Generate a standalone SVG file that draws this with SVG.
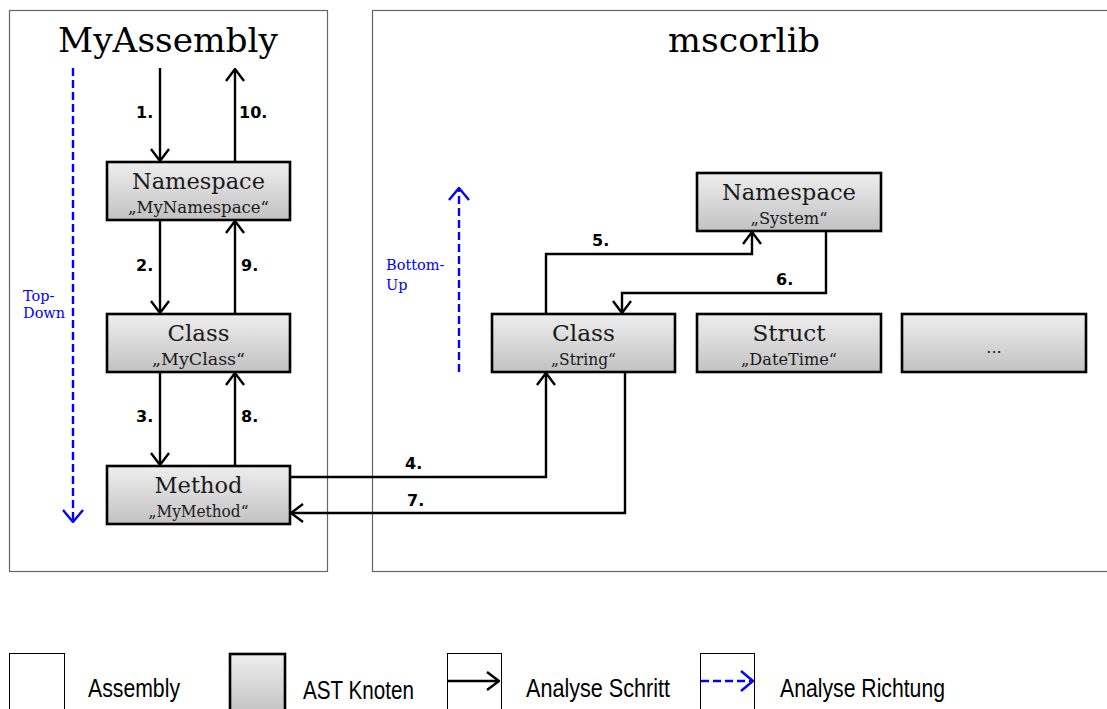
<svg xmlns="http://www.w3.org/2000/svg" width="1107" height="709" viewBox="0 0 1107 709">
  <defs>
    <linearGradient id="nodeFill" x1="0" y1="0" x2="0" y2="1">
      <stop offset="0" stop-color="#eeeeee"/>
      <stop offset="1" stop-color="#c2c2c2"/>
    </linearGradient>
    <marker id="open" viewBox="0 0 14 20" refX="13" refY="10" markerWidth="14" markerHeight="20" markerUnits="userSpaceOnUse" orient="auto">
      <path d="M1,1 L13,10 L1,19" fill="none" stroke="#000" stroke-width="2.4"/>
    </marker>
    <marker id="openBlue" viewBox="0 0 14 22" refX="13" refY="11" markerWidth="14" markerHeight="22" markerUnits="userSpaceOnUse" orient="auto">
      <path d="M1,1 L13,11 L1,21" fill="none" stroke="#0000ff" stroke-width="2.4"/>
    </marker>
  </defs>
  <style>
    .asm { fill: #fff; stroke: #666; stroke-width: 1.2; }
    .node { fill: url(#nodeFill); stroke: #000; stroke-width: 2.6; }
    .title { font-family: "DejaVu Serif", serif; font-size: 34px; fill: #000; text-anchor: middle; }
    .main { font-family: "DejaVu Serif", serif; font-size: 23px; fill: #1a1a1a; text-anchor: middle; }
    .sub { font-family: "DejaVu Serif", serif; font-size: 16px; fill: #1a1a1a; text-anchor: middle; }
    .step { fill: none; stroke: #000; stroke-width: 2.4; marker-end: url(#open); }
    .dir { fill: none; stroke: #0000ff; stroke-width: 2.4; stroke-dasharray: 8 4; marker-end: url(#openBlue); }
    .num { font-family: "DejaVu Sans", sans-serif; font-weight: bold; font-size: 16px; fill: #000; }
    .dirlbl { font-family: "DejaVu Serif", serif; font-size: 14.5px; fill: #0000ff; }
    .leg { font-family: "Liberation Sans", sans-serif; font-size: 26px; fill: #000; }
  </style>

  <!-- assemblies -->
  <g id="assembly-myassembly">
    <rect class="asm" x="9.5" y="10.5" width="318" height="561"/>
    <text class="title" x="168" y="52" textLength="220" lengthAdjust="spacingAndGlyphs">MyAssembly</text>
  </g>
  <g id="assembly-mscorlib">
    <rect class="asm" x="372.5" y="10.5" width="740" height="561"/>
    <text class="title" x="744" y="52" textLength="152" lengthAdjust="spacingAndGlyphs">mscorlib</text>
  </g>

  <!-- analysis directions -->
  <g id="direction-topdown">
    <line class="dir" x1="73" y1="68" x2="73" y2="522"/>
    <text class="dirlbl" x="23" y="301">Top-</text>
    <text class="dirlbl" x="23" y="318">Down</text>
  </g>
  <g id="direction-bottomup">
    <line class="dir" x1="459" y1="372" x2="459" y2="188"/>
    <text class="dirlbl" x="386" y="270">Bottom-</text>
    <text class="dirlbl" x="386" y="290">Up</text>
  </g>

  <!-- AST nodes -->
  <g id="node-mynamespace">
    <rect class="node" x="107" y="162" width="183" height="58"/>
    <text class="main" x="198.5" y="189" textLength="133" lengthAdjust="spacingAndGlyphs">Namespace</text>
    <text class="sub" x="198.5" y="213" textLength="141" lengthAdjust="spacingAndGlyphs">„MyNamespace“</text>
  </g>
  <g id="node-myclass">
    <rect class="node" x="107" y="314" width="183" height="58"/>
    <text class="main" x="198.5" y="341" textLength="62" lengthAdjust="spacingAndGlyphs">Class</text>
    <text class="sub" x="198.5" y="365" textLength="93" lengthAdjust="spacingAndGlyphs">„MyClass“</text>
  </g>
  <g id="node-mymethod">
    <rect class="node" x="107" y="466" width="183" height="58"/>
    <text class="main" x="198.5" y="493" textLength="88" lengthAdjust="spacingAndGlyphs">Method</text>
    <text class="sub" x="198.5" y="517" textLength="100" lengthAdjust="spacingAndGlyphs">„MyMethod“</text>
  </g>
  <g id="node-system">
    <rect class="node" x="697" y="173" width="184" height="58"/>
    <text class="main" x="789" y="200" textLength="134" lengthAdjust="spacingAndGlyphs">Namespace</text>
    <text class="sub" x="789" y="224" textLength="77" lengthAdjust="spacingAndGlyphs">„System“</text>
  </g>
  <g id="node-string">
    <rect class="node" x="492" y="314" width="183" height="58"/>
    <text class="main" x="583.5" y="341" textLength="63" lengthAdjust="spacingAndGlyphs">Class</text>
    <text class="sub" x="583.5" y="365" textLength="65" lengthAdjust="spacingAndGlyphs">„String“</text>
  </g>
  <g id="node-datetime">
    <rect class="node" x="697" y="314" width="184" height="58"/>
    <text class="main" x="789" y="341" textLength="73" lengthAdjust="spacingAndGlyphs">Struct</text>
    <text class="sub" x="789" y="365" textLength="96" lengthAdjust="spacingAndGlyphs">„DateTime“</text>
  </g>
  <g id="node-more">
    <rect class="node" x="902" y="314" width="184" height="58"/>
    <text class="sub" x="994" y="353">...</text>
  </g>

  <!-- analysis steps -->
  <g id="connectors">
    <line class="step" x1="160" y1="68" x2="160" y2="161"/>
    <line class="step" x1="235" y1="162" x2="235" y2="69"/>
    <line class="step" x1="160" y1="220" x2="160" y2="313"/>
    <line class="step" x1="235" y1="314" x2="235" y2="221"/>
    <line class="step" x1="160" y1="372" x2="160" y2="465"/>
    <line class="step" x1="235" y1="466" x2="235" y2="373"/>
    <polyline class="step" points="290,477 546,477 546,373"/>
    <polyline class="step" points="546,314 546,254 752,254 752,232"/>
    <polyline class="step" points="826,231 826,293 622,293 622,313"/>
    <polyline class="step" points="625,372 625,513 291,513"/>
    <text class="num" x="136" y="118">1.</text>
    <text class="num" x="239" y="118">10.</text>
    <text class="num" x="136" y="271">2.</text>
    <text class="num" x="241" y="271">9.</text>
    <text class="num" x="136" y="422">3.</text>
    <text class="num" x="241" y="422">8.</text>
    <text class="num" x="405" y="469">4.</text>
    <text class="num" x="407" y="506">7.</text>
    <text class="num" x="592" y="246">5.</text>
    <text class="num" x="776" y="285">6.</text>
  </g>

  <!-- legend -->
  <g id="legend">
    <rect x="9.5" y="653.5" width="55" height="60" fill="#fff" stroke="#000" stroke-width="1"/>
    <text class="leg" x="88" y="697" textLength="92" lengthAdjust="spacingAndGlyphs">Assembly</text>
    <rect x="230" y="654" width="55" height="60" class="node"/>
    <text class="leg" x="303" y="699" textLength="111" lengthAdjust="spacingAndGlyphs">AST Knoten</text>
    <rect x="447.5" y="653.5" width="54" height="60" fill="#fff" stroke="#000" stroke-width="1"/>
    <line class="step" x1="447" y1="681" x2="499" y2="681"/>
    <text class="leg" x="526" y="697" textLength="144" lengthAdjust="spacingAndGlyphs">Analyse Schritt</text>
    <rect x="700.5" y="653.5" width="54" height="60" fill="#fff" stroke="#000" stroke-width="1"/>
    <line class="dir" x1="701" y1="681" x2="753" y2="681" stroke-dasharray="5 3"/>
    <text class="leg" x="780" y="697" textLength="165" lengthAdjust="spacingAndGlyphs">Analyse Richtung</text>
  </g>
</svg>
